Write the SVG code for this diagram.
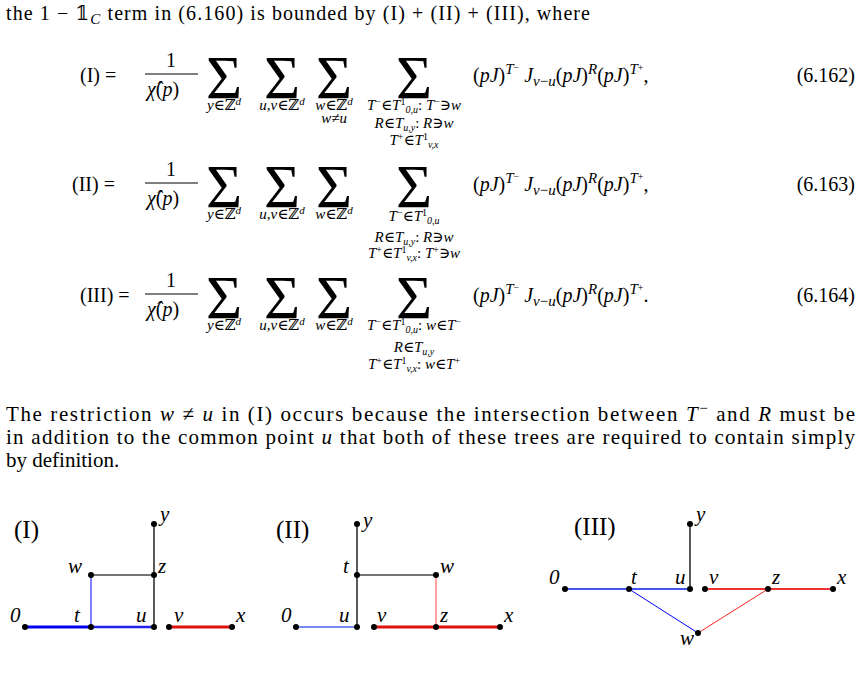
<svg xmlns="http://www.w3.org/2000/svg" width="863" height="678" viewBox="0 0 863 678">
<style>
text{font-family:"Liberation Serif","DejaVu Serif",serif;font-size:20px;fill:#000}
.i{font-style:italic}
.s{font-size:15px}
.S{font-size:62px}
.big{font-size:25px}
.e{stroke:#000;stroke-width:1.3;fill:none}
.dot{fill:#000}
.lab{font-style:italic;font-size:21px}
.p{font-size:21px}
</style>
<rect width="863" height="678" fill="#fff"/>
<text x="6" y="20" textLength="584" lengthAdjust="spacing">the 1 − 𝟙<tspan class="i s" dy="4">C</tspan><tspan dy="-4"> term in (6.160) is bounded by (I) + (II) + (III), where</tspan></text>

<g id="eq162">
<text x="80" y="82">(I) =</text>
<text x="171" y="67" text-anchor="middle">1</text>
<line x1="145" y1="74" x2="198" y2="74" stroke="#000" stroke-width="1"/>
<text x="147" y="96"><tspan class="i">χ̂</tspan>(<tspan class="i">p</tspan>)</text>
<text class="S" x="224" y="98" text-anchor="middle">Σ</text>
<text class="S" x="282" y="98" text-anchor="middle">Σ</text>
<text class="S" x="334" y="98" text-anchor="middle">Σ</text>
<text class="S" x="414" y="98" text-anchor="middle">Σ</text>
<text class="s" x="224" y="110" text-anchor="middle"><tspan class="i">y</tspan>∈ℤ<tspan class="i" font-size="11" dy="-5">d</tspan></text>
<text class="s" x="282" y="110" text-anchor="middle"><tspan class="i">u,v</tspan>∈ℤ<tspan class="i" font-size="11" dy="-5">d</tspan></text>
<text class="s" x="334" y="110" text-anchor="middle"><tspan class="i">w</tspan>∈ℤ<tspan class="i" font-size="11" dy="-5">d</tspan></text>
<text class="s" x="334" y="123" text-anchor="middle"><tspan class="i">w</tspan>≠<tspan class="i">u</tspan></text>
<text class="s" x="414" y="110" text-anchor="middle"><tspan class="i">T</tspan><tspan font-size="10" dy="-5">−</tspan><tspan dy="5">∈</tspan><tspan class="i">T</tspan><tspan font-size="10" dy="-5">1</tspan><tspan class="i" font-size="10" dy="8">0,u</tspan><tspan dy="-3">: </tspan><tspan class="i">T</tspan><tspan font-size="10" dy="-5">−</tspan><tspan dy="5">∋</tspan><tspan class="i">w</tspan></text>
<text class="s" x="414" y="128" text-anchor="middle"><tspan class="i">R</tspan>∈<tspan class="i">T</tspan><tspan class="i" font-size="10" dy="3">u,y</tspan><tspan dy="-3">: </tspan><tspan class="i">R</tspan>∋<tspan class="i">w</tspan></text>
<text class="s" x="414" y="145" text-anchor="middle"><tspan class="i">T</tspan><tspan font-size="10" dy="-5">+</tspan><tspan dy="5">∈</tspan><tspan class="i">T</tspan><tspan font-size="10" dy="-5">1</tspan><tspan class="i" font-size="10" dy="8">v,x</tspan></text>
<text x="473" y="82">(<tspan class="i">pJ</tspan>)<tspan class="i s" dy="-8">T</tspan><tspan font-size="10" dy="-3">−</tspan><tspan dy="11"> </tspan><tspan class="i">J</tspan><tspan class="i s" dy="4">v</tspan><tspan class="s">−</tspan><tspan class="i s">u</tspan><tspan dy="-4">(</tspan><tspan class="i">pJ</tspan>)<tspan class="i s" dy="-8">R</tspan><tspan dy="8">(</tspan><tspan class="i">pJ</tspan>)<tspan class="i s" dy="-8">T</tspan><tspan font-size="10" dy="-3">+</tspan><tspan dy="11">,</tspan></text>
<text x="855" y="82" text-anchor="end">(6.162)</text>
</g>

<g id="eq163">
<text x="72" y="191">(II) =</text>
<text x="171" y="176" text-anchor="middle">1</text>
<line x1="145" y1="183" x2="198" y2="183" stroke="#000" stroke-width="1"/>
<text x="147" y="205"><tspan class="i">χ̂</tspan>(<tspan class="i">p</tspan>)</text>
<text class="S" x="224" y="207" text-anchor="middle">Σ</text>
<text class="S" x="282" y="207" text-anchor="middle">Σ</text>
<text class="S" x="334" y="207" text-anchor="middle">Σ</text>
<text class="S" x="414" y="207" text-anchor="middle">Σ</text>
<text class="s" x="224" y="219" text-anchor="middle"><tspan class="i">y</tspan>∈ℤ<tspan class="i" font-size="11" dy="-5">d</tspan></text>
<text class="s" x="282" y="219" text-anchor="middle"><tspan class="i">u,v</tspan>∈ℤ<tspan class="i" font-size="11" dy="-5">d</tspan></text>
<text class="s" x="334" y="219" text-anchor="middle"><tspan class="i">w</tspan>∈ℤ<tspan class="i" font-size="11" dy="-5">d</tspan></text>
<text class="s" x="414" y="221" text-anchor="middle"><tspan class="i">T</tspan><tspan font-size="10" dy="-5">−</tspan><tspan dy="5">∈</tspan><tspan class="i">T</tspan><tspan font-size="10" dy="-5">1</tspan><tspan class="i" font-size="10" dy="8">0,u</tspan></text>
<text class="s" x="414" y="242" text-anchor="middle"><tspan class="i">R</tspan>∈<tspan class="i">T</tspan><tspan class="i" font-size="10" dy="3">u,y</tspan><tspan dy="-3">: </tspan><tspan class="i">R</tspan>∋<tspan class="i">w</tspan></text>
<text class="s" x="414" y="258" text-anchor="middle"><tspan class="i">T</tspan><tspan font-size="10" dy="-5">+</tspan><tspan dy="5">∈</tspan><tspan class="i">T</tspan><tspan font-size="10" dy="-5">1</tspan><tspan class="i" font-size="10" dy="8">v,x</tspan><tspan dy="-3">: </tspan><tspan class="i">T</tspan><tspan font-size="10" dy="-5">+</tspan><tspan dy="5">∋</tspan><tspan class="i">w</tspan></text>
<text x="473" y="191">(<tspan class="i">pJ</tspan>)<tspan class="i s" dy="-8">T</tspan><tspan font-size="10" dy="-3">−</tspan><tspan dy="11"> </tspan><tspan class="i">J</tspan><tspan class="i s" dy="4">v</tspan><tspan class="s">−</tspan><tspan class="i s">u</tspan><tspan dy="-4">(</tspan><tspan class="i">pJ</tspan>)<tspan class="i s" dy="-8">R</tspan><tspan dy="8">(</tspan><tspan class="i">pJ</tspan>)<tspan class="i s" dy="-8">T</tspan><tspan font-size="10" dy="-3">+</tspan><tspan dy="11">,</tspan></text>
<text x="855" y="191" text-anchor="end">(6.163)</text>
</g>

<g id="eq164">
<text x="80" y="302">(III) =</text>
<text x="171" y="287" text-anchor="middle">1</text>
<line x1="145" y1="294" x2="198" y2="294" stroke="#000" stroke-width="1"/>
<text x="147" y="316"><tspan class="i">χ̂</tspan>(<tspan class="i">p</tspan>)</text>
<text class="S" x="224" y="318" text-anchor="middle">Σ</text>
<text class="S" x="282" y="318" text-anchor="middle">Σ</text>
<text class="S" x="334" y="318" text-anchor="middle">Σ</text>
<text class="S" x="414" y="318" text-anchor="middle">Σ</text>
<text class="s" x="224" y="330" text-anchor="middle"><tspan class="i">y</tspan>∈ℤ<tspan class="i" font-size="11" dy="-5">d</tspan></text>
<text class="s" x="282" y="330" text-anchor="middle"><tspan class="i">u,v</tspan>∈ℤ<tspan class="i" font-size="11" dy="-5">d</tspan></text>
<text class="s" x="334" y="330" text-anchor="middle"><tspan class="i">w</tspan>∈ℤ<tspan class="i" font-size="11" dy="-5">d</tspan></text>
<text class="s" x="414" y="330" text-anchor="middle"><tspan class="i">T</tspan><tspan font-size="10" dy="-5">−</tspan><tspan dy="5">∈</tspan><tspan class="i">T</tspan><tspan font-size="10" dy="-5">1</tspan><tspan class="i" font-size="10" dy="8">0,u</tspan><tspan dy="-3">: </tspan><tspan class="i">w</tspan>∈<tspan class="i">T</tspan><tspan font-size="10" dy="-5">−</tspan></text>
<text class="s" x="414" y="352" text-anchor="middle"><tspan class="i">R</tspan>∈<tspan class="i">T</tspan><tspan class="i" font-size="10" dy="3">u,y</tspan></text>
<text class="s" x="414" y="369" text-anchor="middle"><tspan class="i">T</tspan><tspan font-size="10" dy="-5">+</tspan><tspan dy="5">∈</tspan><tspan class="i">T</tspan><tspan font-size="10" dy="-5">1</tspan><tspan class="i" font-size="10" dy="8">v,x</tspan><tspan dy="-3">: </tspan><tspan class="i">w</tspan>∈<tspan class="i">T</tspan><tspan font-size="10" dy="-5">+</tspan></text>
<text x="473" y="302">(<tspan class="i">pJ</tspan>)<tspan class="i s" dy="-8">T</tspan><tspan font-size="10" dy="-3">−</tspan><tspan dy="11"> </tspan><tspan class="i">J</tspan><tspan class="i s" dy="4">v</tspan><tspan class="s">−</tspan><tspan class="i s">u</tspan><tspan dy="-4">(</tspan><tspan class="i">pJ</tspan>)<tspan class="i s" dy="-8">R</tspan><tspan dy="8">(</tspan><tspan class="i">pJ</tspan>)<tspan class="i s" dy="-8">T</tspan><tspan font-size="10" dy="-3">+</tspan><tspan dy="11">.</tspan></text>
<text x="855" y="302" text-anchor="end">(6.164)</text>
</g>

<g id="para">
<text class="p" x="6" y="421" textLength="849" lengthAdjust="spacing">The restriction <tspan class="i">w</tspan> ≠ <tspan class="i">u</tspan> in (I) occurs because the intersection between <tspan class="i">T</tspan><tspan class="s" dy="-8">−</tspan><tspan dy="8"> and </tspan><tspan class="i">R</tspan> must be</text>
<text class="p" x="6" y="444" textLength="849" lengthAdjust="spacing">in addition to the common point <tspan class="i">u</tspan> that both of these trees are required to contain simply</text>
<text class="p" x="6" y="467">by definition.</text>
</g>

<g id="diagI">
<text class="big" x="14" y="538">(I)</text>
<line x1="25" y1="627" x2="91" y2="627" stroke="#0000ee" stroke-width="3"/>
<line x1="91" y1="627" x2="154" y2="627" stroke="#2222ee" stroke-width="2.5"/>
<line x1="91" y1="627" x2="91" y2="575" stroke="#0000ff" stroke-width="1"/>
<line x1="91" y1="575" x2="154" y2="575" stroke="#444" stroke-width="1.5"/>
<line x1="154" y1="627" x2="154" y2="524" class="e"/>
<line x1="169" y1="627" x2="232" y2="627" stroke="#e01010" stroke-width="3"/>
<circle class="dot" cx="25" cy="627" r="3"/><circle class="dot" cx="91" cy="627" r="3"/><circle class="dot" cx="154" cy="627" r="3"/><circle class="dot" cx="169" cy="627" r="3"/><circle class="dot" cx="232" cy="627" r="3"/><circle class="dot" cx="91" cy="575" r="3"/><circle class="dot" cx="154" cy="575" r="3"/><circle class="dot" cx="154" cy="524" r="3"/>
<text class="lab" x="10" y="622">0</text><text class="lab" x="74" y="622">t</text><text class="lab" x="136" y="622">u</text><text class="lab" x="174" y="622">v</text><text class="lab" x="236" y="622">x</text><text class="lab" x="68" y="573">w</text><text class="lab" x="158" y="573">z</text><text class="lab" x="160" y="521">y</text>
</g>

<g id="diagII">
<text class="big" x="276" y="538">(II)</text>
<line x1="296" y1="627" x2="357" y2="627" stroke="#7788ee" stroke-width="2"/>
<line x1="357" y1="627" x2="357" y2="524" class="e"/>
<line x1="357" y1="575" x2="436" y2="575" stroke="#444" stroke-width="1.5"/>
<line x1="436" y1="575" x2="436" y2="627" stroke="#ff4444" stroke-width="1"/>
<line x1="374" y1="627" x2="500" y2="627" stroke="#e01010" stroke-width="3"/>
<circle class="dot" cx="296" cy="627" r="3"/><circle class="dot" cx="357" cy="627" r="3"/><circle class="dot" cx="374" cy="627" r="3"/><circle class="dot" cx="436" cy="627" r="3"/><circle class="dot" cx="500" cy="627" r="3"/><circle class="dot" cx="357" cy="575" r="3"/><circle class="dot" cx="436" cy="575" r="3"/><circle class="dot" cx="357" cy="524" r="3"/>
<text class="lab" x="281" y="622">0</text><text class="lab" x="339" y="622">u</text><text class="lab" x="377" y="622">v</text><text class="lab" x="440" y="622">z</text><text class="lab" x="504" y="622">x</text><text class="lab" x="343" y="573">t</text><text class="lab" x="440" y="573">w</text><text class="lab" x="363" y="527">y</text>
</g>

<g id="diagIII">
<text class="big" x="574" y="535">(III)</text>
<line x1="565" y1="589" x2="690" y2="589" stroke="#4455ee" stroke-width="2"/>
<line x1="629" y1="589" x2="698" y2="633" stroke="#0000ff" stroke-width="1"/>
<line x1="698" y1="633" x2="768" y2="589" stroke="#ff2222" stroke-width="1"/>
<line x1="705" y1="589" x2="833" y2="589" stroke="#ee3333" stroke-width="2"/>
<line x1="690" y1="589" x2="690" y2="524" class="e"/>
<circle class="dot" cx="565" cy="589" r="3"/><circle class="dot" cx="629" cy="589" r="3"/><circle class="dot" cx="690" cy="589" r="3"/><circle class="dot" cx="705" cy="589" r="3"/><circle class="dot" cx="768" cy="589" r="3"/><circle class="dot" cx="833" cy="589" r="3"/><circle class="dot" cx="698" cy="633" r="3"/><circle class="dot" cx="690" cy="524" r="3"/>
<text class="lab" x="549" y="584">0</text><text class="lab" x="631" y="584">t</text><text class="lab" x="675" y="584">u</text><text class="lab" x="709" y="584">v</text><text class="lab" x="772" y="584">z</text><text class="lab" x="837" y="584">x</text><text class="lab" x="680" y="645">w</text><text class="lab" x="696" y="521">y</text>
</g>
</svg>
